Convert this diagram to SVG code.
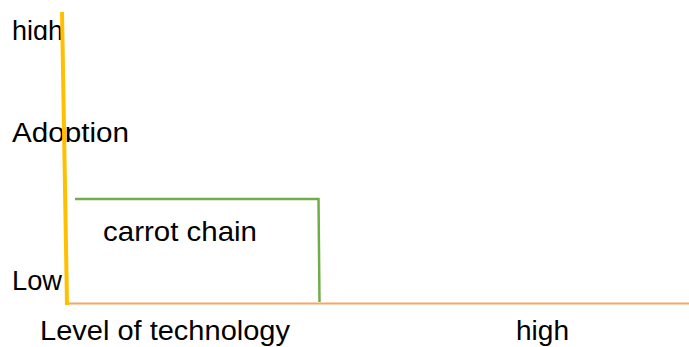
<svg xmlns="http://www.w3.org/2000/svg" width="689" height="347" viewBox="0 0 689 347">
<style>
text{font-family:"Liberation Sans",Arial,sans-serif;font-size:27.5px;fill:#000}
.ax{fill:none;stroke-linecap:butt}
</style>
<defs>
<clipPath id="c1"><rect x="0" y="0" width="200" height="40"/></clipPath>
<clipPath id="c2"><rect x="0" y="100" width="200" height="42"/></clipPath>
</defs>
<rect width="689" height="347" fill="#fff"/>
<g id="labels">
<text x="12" y="39.5" textLength="51" lengthAdjust="spacingAndGlyphs" clip-path="url(#c1)">high</text>
<text x="12" y="141.5" textLength="117" lengthAdjust="spacingAndGlyphs" clip-path="url(#c2)">Adoption</text>
<text x="12" y="290" textLength="50" lengthAdjust="spacingAndGlyphs">Low</text>
<text x="40" y="340" textLength="250" lengthAdjust="spacingAndGlyphs">Level of technology</text>
<text x="516" y="340" textLength="53" lengthAdjust="spacingAndGlyphs">high</text>
</g>
<g id="connectors">
<line class="ax" x1="67" y1="303.5" x2="689" y2="303.5" stroke="#F4A66B" stroke-width="2"/>
<line class="ax" x1="62" y1="12" x2="67" y2="305" stroke="#FFC000" stroke-width="4"/>
</g>
<g id="carrot-chain">
<polyline class="ax" points="75,199 318.5,199 319.5,302" stroke="#70AD47" stroke-width="2.5"/>
<text x="103" y="240.5" textLength="154" lengthAdjust="spacingAndGlyphs">carrot chain</text>
</g>
</svg>
